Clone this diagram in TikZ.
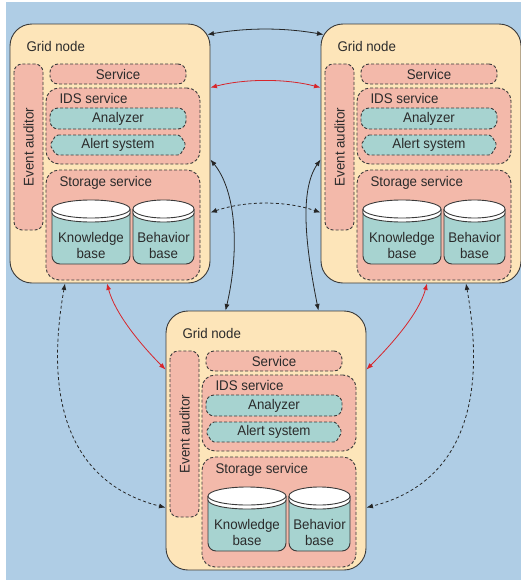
\documentclass[tikz,border=0pt]{standalone}
\usepackage{fontspec}
\setmainfont{Liberation Sans}[FakeStretch=0.95]
\usetikzlibrary{arrows.meta,calc}

\definecolor{bgblue}{HTML}{AFCDE5}
\definecolor{nodefill}{HTML}{FDE5B9}
\definecolor{svcpink}{HTML}{F3B9AA}
\definecolor{dbteal}{HTML}{A7D3D0}
\definecolor{linegray}{HTML}{3A3A3A}
\definecolor{textgray}{HTML}{2B2B2B}
\definecolor{linkred}{HTML}{D7262C}

\tikzset{
  gridbox/.style={draw=linegray, line width=0.9pt, fill=nodefill, rounded corners=22pt,
    minimum width=200pt, minimum height=259pt, inner sep=0pt},
  dashbox/.style={draw=linegray, line width=0.9pt, dash pattern=on 3pt off 2pt, inner sep=0pt},
  svcbox/.style={dashbox, fill=svcpink, rounded corners=8pt},
  groupbox/.style={dashbox, fill=svcpink, rounded corners=13pt, minimum width=154pt},
  compbox/.style={dashbox, fill=dbteal, rounded corners=8pt, minimum width=136pt},
  dbline/.style={draw=linegray, line width=0.9pt},
  blklink/.style={draw=black!85, line width=0.8pt, {Latex[length=6.5pt,width=5pt]}-{Latex[length=6.5pt,width=5pt]}},
  redlink/.style={blklink, draw=linkred, color=linkred},
  dashlink/.style={blklink, dash pattern=on 3pt off 2.5pt}
}

% one grid node, #1,#2 = upper left corner, #3 = name
\newcommand{\gridnode}[3]{%
\begin{scope}[shift={(#1,#2)}]
\node[gridbox] (#3) at (100,129.5) {};
\node[anchor=west] (#3-title) at (13,22) {Grid node};
\node[svcbox, rotate=90, minimum width=166pt, minimum height=29pt] (#3-auditor) at (18.5,123) {Event auditor};
\node[svcbox, minimum width=136pt, minimum height=20pt] (#3-service) at (108,50) {Service};
% IDS service
\node[groupbox, minimum height=76pt] (#3-ids) at (113,102) {};
\node[anchor=west] (#3-idstitle) at (46,74) {IDS service};
\node[compbox, minimum height=21pt] (#3-analyzer) at (108,94.5) {Analyzer};
\draw[dashbox, fill=dbteal, rounded corners=2pt] (46,111) -- (170,111) -- (176,121) -- (170,131) -- (46,131) -- (40,121) -- cycle;
\node (#3-alert) at (108,121) {Alert system};
% storage service
\node[groupbox, minimum height=110pt] (#3-storage) at (113,201) {};
\node[anchor=west] (#3-storagetitle) at (46,159) {Storage service};
\draw[dbline, fill=dbteal, rounded corners=8pt] (42,185) -- (42,240) -- (120,240) -- (120,185);
\draw[dbline, fill=white] (42,185) -- (42,189) arc[start angle=180, end angle=0, x radius=39, y radius=9] -- (120,185);
\draw[dbline, fill=white] (81,185) ellipse[x radius=39, y radius=9];
\node[align=center] (#3-knowledge) at (81,221) {Knowledge\\base};
\draw[dbline, fill=dbteal, rounded corners=8pt] (123,185) -- (123,240) -- (184,240) -- (184,185);
\draw[dbline, fill=white] (123,185) -- (123,189) arc[start angle=180, end angle=0, x radius=30.5, y radius=9] -- (184,185);
\draw[dbline, fill=white] (153.5,185) ellipse[x radius=30.5, y radius=9];
\node[align=center] (#3-behavior) at (153.5,221) {Behavior\\base};
\end{scope}}

\begin{document}
\begin{tikzpicture}[x=1pt, y=-1pt, font=\fontsize{14}{16}\selectfont, text=textgray]
\useasboundingbox (0,0) rectangle (521,581);
\fill[bgblue] (6,2) rectangle (521,580);

\gridnode{10}{24}{A}
\gridnode{321}{24}{B}
\gridnode{166}{311}{C}

% links between the top nodes
\draw[blklink] ($(A.north east)+(-3,11)$) .. controls +(40,-7) and +(-40,-7) .. ($(B.north west)+(3,11)$);
\draw[redlink] ($(A.north east)+(0,64)$) .. controls +(35,-9) and +(-35,-9) .. ($(B.north west)+(0,64)$);
\draw[dashlink] ($(A.north east)+(0,189)$) .. controls +(35,-12) and +(-35,-12) .. ($(B.north west)+(0,189)$);

% links down to the lower node
\draw[blklink] ($(A.north east)+(0,136)$) .. controls +(26,32) and +(14,-60) .. ($(C.north west)+(60,0)$);
\draw[blklink] ($(B.north west)+(0,136)$) .. controls +(-22,32) and +(-12,-60) .. ($(C.north east)+(-48,0)$);
\draw[redlink] ($(A.south)+(-3,0)$) .. controls +(8,30) and +(-25,-25) .. ($(C.north west)+(0,59)$);
\draw[redlink] ($(B.south)+(6,0)$) .. controls +(-8,30) and +(25,-25) .. ($(C.north east)+(0,59)$);
\draw[dashlink] ($(A.south)+(-45,0)$) .. controls +(-25,140) and +(-80,-20) .. ($(C.north west)+(0,197)$);
\draw[dashlink] ($(B.south)+(45,0)$) .. controls +(25,140) and +(80,-20) .. ($(C.north east)+(0,197)$);
\end{tikzpicture}
\end{document}
